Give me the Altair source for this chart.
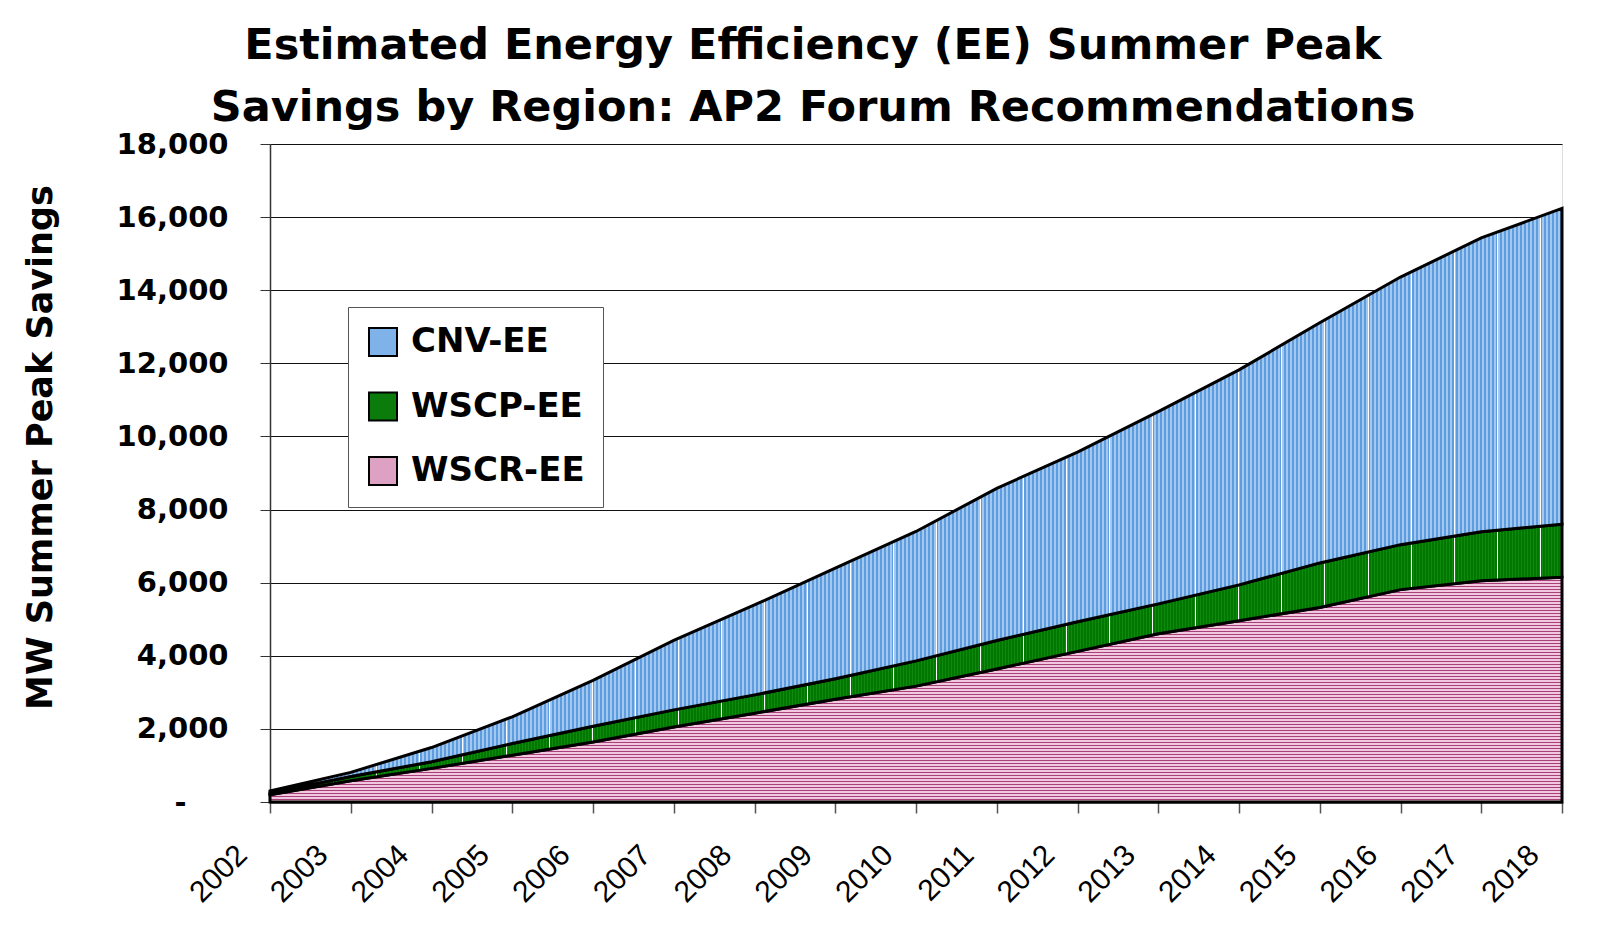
import altair as alt
import pandas as pd

years = list(range(2002, 2019))
wscr_ee = [200, 580, 920, 1280, 1640, 2050, 2430, 2810, 3170, 3640, 4120, 4600, 4960, 5320, 5810, 6050, 6150]
wscp_ee = [45, 120, 180, 320, 430, 470, 500, 560, 690, 780, 810, 820, 980, 1220, 1230, 1340, 1450]
cnv_ee = [55, 110, 390, 730, 1260, 1900, 2460, 3030, 3540, 4160, 4640, 5260, 5880, 6570, 7320, 8040, 8640]

series_names = ["CNV-EE", "WSCP-EE", "WSCR-EE"]
series_values = [cnv_ee, wscp_ee, wscr_ee]
stack_rank = [2, 1, 0]
colors = ["#7FB2E8", "#0B7B0B", "#DDA1C3"]
y_ticks = list(range(0, 18001, 2000))
y_max = 18000

title_lines = ["Estimated Energy Efficiency (EE) Summer Peak",
               "Savings by Region: AP2 Forum Recommendations"]

rows = []
for name, vals, rank in zip(series_names, series_values, stack_rank):
    for yr, v in zip(years, vals):
        rows.append({"year": yr, "series": name, "mw": v, "rank": rank})
df = pd.DataFrame(rows)

W, H = 1292, 658
bold = "DejaVu Sans"


# ---- stripe textures (style only) ----
def runs_to_stops(length, color_at):
    runs = []
    for p in range(length):
        c = color_at(p)
        if runs and runs[-1][2] == c:
            runs[-1][1] = p + 1
        else:
            runs.append([p, p + 1, c])
    stops = []
    for s, e, c in runs:
        stops.append(alt.GradientStop(offset=s / length, color=c))
        stops.append(alt.GradientStop(offset=e / length, color=c))
    return stops


white_cols = set(int(round(20 + 43.1 * k)) for k in range(40))


def blue_at(p):
    if p in white_cols:
        return "#FFFFFF"
    return "#A3C8F0" if (p // 2) % 2 == 0 else "#5E9CE0"


def green_at(p):
    if p in white_cols:
        return "#FFFFFF"
    return "#0F8A0F" if p % 3 == 0 else "#007800"


def pink_at(p):
    return "#A8407A" if p % 3 == 0 else "#F2C8E0"


blue_grad = alt.Gradient(gradient="linear", x1=0, x2=1, y1=0, y2=0,
                         stops=runs_to_stops(W, blue_at))
green_grad = alt.Gradient(gradient="linear", x1=0, x2=1, y1=0, y2=0,
                          stops=runs_to_stops(W, green_at))
pink_h = int(round(max(wscr_ee) / y_max * H))
pink_grad = alt.Gradient(gradient="linear", x1=0, x2=0, y1=0, y2=1,
                         stops=runs_to_stops(max(pink_h, 1), pink_at))

x_scale = alt.Scale(domain=[2002, 2018], nice=False, zero=False)
y_scale = alt.Scale(domain=[0, y_max], nice=False)

x_axis = alt.Axis(values=years, format="d", labelAngle=315,
                  labelAlign="right", labelBaseline="middle",
                  labelFont="Liberation Sans", labelFontSize=30,
                  labelColor="black", labelOffset=-28, labelPadding=37,
                  labelOverlap=False, labelFlush=False,
                  tickSize=11, tickColor="#555", tickWidth=1.5,
                  domainColor="#000", domainWidth=2, grid=False,
                  title=None)
y_axis = alt.Axis(values=y_ticks,
                  labelExpr="datum.value == 0 ? '-' : format(datum.value, ',')",
                  labelFont=bold, labelFontSize=29, labelFontWeight="bold",
                  labelColor="black",
                  labelPadding={"condition": {"test": "datum.value == 0", "value": 74}, "value": 32},
                  tickSize=10, tickColor="#333", tickWidth=1,
                  domainColor="#333", domainWidth=1.5,
                  grid=True, gridColor="#111", gridWidth=1,
                  title="MW Summer Peak Savings",
                  titleFont=bold, titleFontSize=35, titleFontWeight="bold",
                  titleColor="black", titleAngle=270,
                  titleAlign="center", titleBaseline="middle",
                  titleX=-230, titleY=303)

base = alt.Chart(df).mark_area(opacity=1).encode(
    x=alt.X("year:Q", scale=x_scale, axis=x_axis),
    y=alt.Y("mw:Q", stack="zero", scale=y_scale, axis=y_axis),
    fill=alt.Fill("series:N",
                  scale=alt.Scale(domain=series_names, range=colors),
                  legend=alt.Legend(orient="none", legendX=78, legendY=163,
                                    title=None, padding=18,
                                    strokeColor="#555", fillColor="white",
                                    symbolType="square", symbolSize=784,
                                    symbolStrokeColor="black", symbolStrokeWidth=2,
                                    symbolOpacity=1, labelLimit=400,
                                    labelFont=bold, labelFontSize=34,
                                    labelFontWeight="bold", labelColor="black",
                                    labelOffset=11, rowPadding=28.5)),
    order=alt.Order("rank:Q", sort="ascending"),
)


def textured(series, grad):
    return alt.Chart(df).transform_stack(
        stack="mw", groupby=["year"], as_=["y0", "y1"],
        sort=[alt.SortField("rank", order="ascending")]
    ).transform_filter(alt.datum.series == series).mark_area(
        fill=grad, stroke="black", strokeWidth=3, strokeJoin="miter", opacity=1
    ).encode(
        x=alt.X("year:Q", scale=x_scale, axis=x_axis),
        y=alt.Y("y1:Q", scale=y_scale, axis=y_axis),
        y2="y0:Q",
    )


chart = alt.layer(
    base,
    textured("WSCR-EE", pink_grad),
    textured("WSCP-EE", green_grad),
    textured("CNV-EE", blue_grad),
).properties(
    width=W, height=H,
    padding={"left": 262, "top": 136, "right": 40, "bottom": 120},
    autosize=alt.AutoSizeParams(type="none"),
    title=alt.TitleParams(text=title_lines, font=bold, fontSize=43,
                          fontWeight="bold", color="black", lineHeight=62,
                          anchor="middle", dx=-103, offset=0),
).configure_view(stroke="#888", strokeWidth=2).configure(background="white")

chart.save("out.html", embed_options={"renderer": "svg", "actions": False})
